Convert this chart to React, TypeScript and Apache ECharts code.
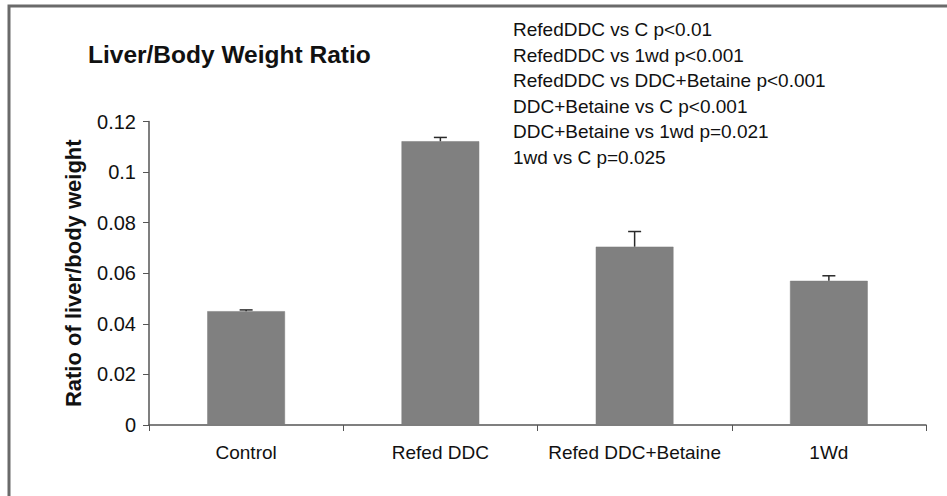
import React, { useEffect, useRef } from "react";
import * as echarts from "echarts";

const categories = ["Control", "Refed DDC", "Refed DDC+Betaine", "1Wd"];
const ratioValues = [0.045, 0.1122, 0.0705, 0.057];
const ratioErrors = [0.0005, 0.0015, 0.006, 0.002];
const yTicks = [0, 0.02, 0.04, 0.06, 0.08, 0.1, 0.12];
const titleText = "Liver/Body Weight Ratio";
const yAxisName = "Ratio of liver/body weight";
const annotations = [
  "RefedDDC vs C p<0.01",
  "RefedDDC vs 1wd p<0.001",
  "RefedDDC vs DDC+Betaine p<0.001",
  "DDC+Betaine vs C p<0.001",
  "DDC+Betaine vs 1wd p=0.021",
  "1wd vs C p=0.025",
];

const FONT = "'Liberation Sans', Arial, sans-serif";

export default function App() {
  const ref = useRef<HTMLDivElement>(null);
  useEffect(() => {
    if (!ref.current) return;
    const chart = echarts.init(ref.current, null, { renderer: "svg" });
    const errData = ratioValues.map((v, i) => [i, v, ratioErrors[i]]);
    chart.setOption({
      animation: false,
      backgroundColor: "#ffffff",
      textStyle: { fontFamily: FONT },
      grid: { left: 149, right: 21, top: 121.5, bottom: 71, containLabel: false },
      title: {
        text: titleText,
        left: 88,
        top: 42,
        padding: 0,
        textStyle: { fontFamily: FONT, fontSize: 24.5, fontWeight: "bold", color: "#111" },
      },
      graphic: [
        {
          type: "rect",
          shape: { x: 9, y: 6, width: 960, height: 520 },
          style: { fill: "none", stroke: "#6a6a6a", lineWidth: 3 },
          silent: true,
        },
        ...annotations.map((t, i) => ({
          type: "text",
          left: 513,
          top: 20 + i * 25.5,
          style: { text: t, font: `19px ${FONT}`, fill: "#111" },
          silent: true,
        })),
      ],
      xAxis: {
        type: "category",
        data: categories,
        boundaryGap: true,
        axisLine: { lineStyle: { color: "#555", width: 1.5 } },
        axisTick: { show: true, alignWithLabel: false, interval: 0, length: 6, lineStyle: { color: "#555" } },
        axisLabel: { color: "#111", fontSize: 19, fontFamily: FONT, margin: 18, interval: 0, hideOverlap: false },
      },
      yAxis: {
        type: "value",
        min: 0,
        max: 0.12,
        interval: 0.02,
        name: yAxisName,
        nameLocation: "middle",
        nameGap: 65,
        nameRotate: 90,
        nameTextStyle: { fontFamily: FONT, fontSize: 22, fontWeight: "bold", color: "#111" },
        splitLine: { show: false },
        axisLine: { show: true, lineStyle: { color: "#555", width: 1.5 } },
        axisTick: { show: true, length: 6, lineStyle: { color: "#555" } },
        axisLabel: {
          color: "#111",
          fontSize: 20,
          fontFamily: FONT,
          margin: 13,
          formatter: (v: number) => {
            const t = yTicks.find((x) => Math.abs(x - v) < 1e-9);
            return t === undefined ? "" : String(Number(t.toFixed(2)));
          },
        },
      },
      series: [
        {
          type: "bar",
          data: ratioValues,
          barWidth: "40%",
          itemStyle: { color: "#808080", borderColor: "#7a7a7a", borderWidth: 0.5 },
        },
        {
          type: "custom",
          data: errData,
          z: 5,
          renderItem: (params: any, api: any) => {
            const x = api.value(0);
            const v = api.value(1);
            const e = api.value(2);
            const p0 = api.coord([x, v]);
            const p1 = api.coord([x, v + e]);
            const cap = 6.5;
            const style = { stroke: "#2a2a2a", lineWidth: 1.5 };
            return {
              type: "group",
              children: [
                { type: "line", shape: { x1: p0[0], y1: p0[1], x2: p1[0], y2: p1[1] }, style },
                { type: "line", shape: { x1: p1[0] - cap, y1: p1[1], x2: p1[0] + cap, y2: p1[1] }, style },
              ],
            };
          },
        },
      ],
    });
    return () => chart.dispose();
  }, []);
  return (
    <div
      ref={ref}
      style={{ position: "absolute", left: 0, top: 0, width: 947, height: 496 }}
    />
  );
}
